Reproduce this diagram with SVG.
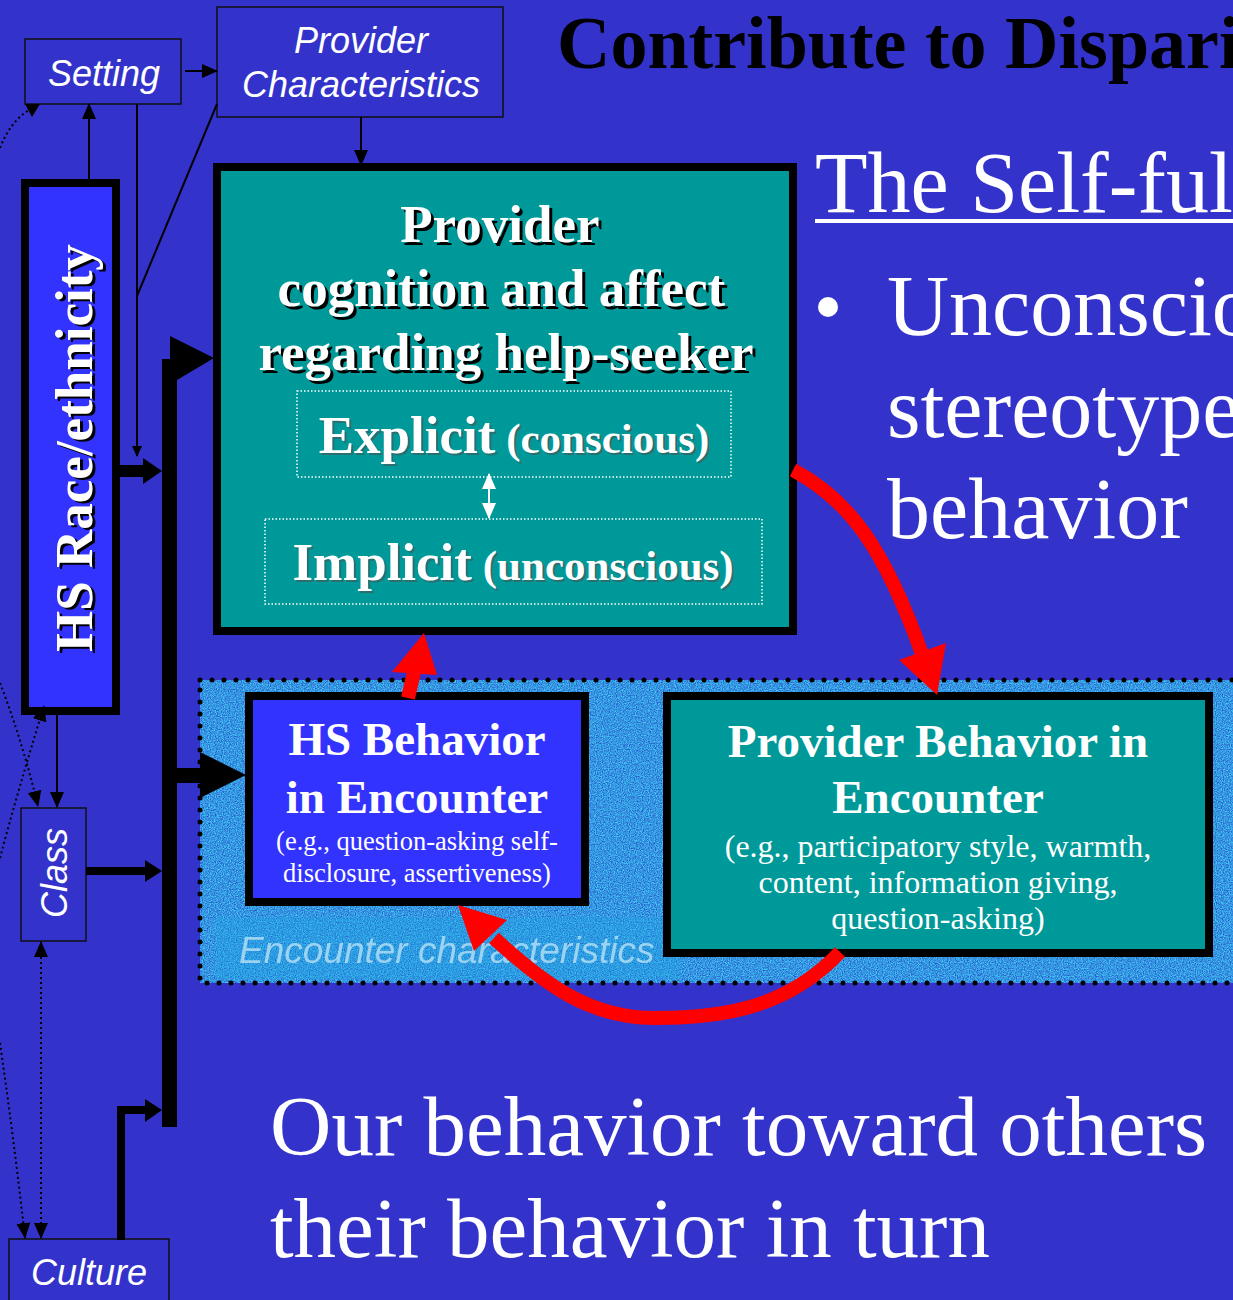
<svg xmlns="http://www.w3.org/2000/svg" width="1233" height="1300" viewBox="0 0 1233 1300">
  <style>
    .serif { font-family: "Liberation Serif", "Times New Roman", serif; }
    .sans { font-family: "Liberation Sans", Arial, sans-serif; }
    .lbl { font-family: "Liberation Sans", Arial, sans-serif; font-style: italic; font-size: 36px; fill: #fff; text-anchor: middle; }
    .thin { stroke: #000; stroke-width: 2; fill: none; }
    .dot { stroke: #000; stroke-width: 2; fill: none; stroke-dasharray: 2 3; }
    .box { fill: #3333CC; stroke: #111; stroke-width: 1.5; }
    .bold { font-family: "Liberation Serif", "Times New Roman", serif; font-weight: bold; fill: #fff; text-anchor: middle; }
    .reg { font-family: "Liberation Serif", "Times New Roman", serif; fill: #fff; text-anchor: middle; }
    .red { stroke: #FF0000; stroke-width: 14; fill: none; }
  </style>
  <defs>
    <marker id="tri" markerUnits="userSpaceOnUse" markerWidth="16" markerHeight="16" viewBox="0 0 16 16" refX="15" refY="8" orient="auto-start-reverse">
      <path d="M0,1 L16,8 L0,15 z" fill="#000"/>
    </marker>
    <marker id="triS" markerUnits="userSpaceOnUse" markerWidth="11" markerHeight="11" viewBox="0 0 11 11" refX="10" refY="5.5" orient="auto">
      <path d="M0,0.5 L11,5.5 L0,10.5 z" fill="#000"/>
    </marker>
    <marker id="triW" markerUnits="userSpaceOnUse" markerWidth="16" markerHeight="16" viewBox="0 0 16 16" refX="15" refY="8" orient="auto-start-reverse">
      <path d="M0,1 L16,8 L0,15 z" fill="#fff"/>
    </marker>
    <filter id="grain" x="0" y="0" width="100%" height="100%">
      <feTurbulence type="fractalNoise" baseFrequency="0.85" numOctaves="2" seed="4" result="n"/>
      <feColorMatrix in="n" type="matrix" values="0 0 0 0 0.05  0 0 0 0 0.62  0 0 0 0 0.9  1.8 0 0 0 -0.35" result="c"/>
      <feComposite in="c" in2="SourceGraphic" operator="in"/>
    </filter>
  </defs>

  <!-- background -->
  <rect x="0" y="0" width="1233" height="1300" fill="#3333CC"/>

  <!-- slide heading and body text -->
  <g id="heading">
    <text x="557" y="68" class="serif" font-weight="bold" font-size="74" fill="#000">Contribute to Dispari</text>
    <text x="815" y="212" class="serif" font-size="86" fill="#fff">The Self-fulf</text>
    <rect x="815" y="219" width="418" height="4" fill="#fff"/>
    <circle cx="828" cy="307" r="10" fill="#fff"/>
    <text class="serif" font-size="86" fill="#fff">
      <tspan x="887" y="335">Unconscio</tspan>
      <tspan x="887" y="437">stereotype</tspan>
      <tspan x="887" y="538">behavior</tspan>
    </text>
    <text class="serif" font-size="85" fill="#fff">
      <tspan x="270" y="1155">Our behavior toward others</tspan>
      <tspan x="270" y="1257">their behavior in turn</tspan>
    </text>
  </g>

  <!-- encounter region with grainy fill and dotted border -->
  <g id="encounter">
    <rect x="200" y="680" width="1100" height="303" fill="#2a50cc"/>
    <rect x="200" y="680" width="1100" height="303" fill="#000" filter="url(#grain)"/>
    <rect x="215" y="917" width="466" height="62" fill="#1aa8e0" opacity="0.3"/>
    <text x="239" y="963" class="sans" font-style="italic" font-size="37" fill="#b0ddf4" opacity="0.85">Encounter characteristics</text>
    <rect x="200" y="680" width="1100" height="303" fill="none" stroke="#000" stroke-width="5" stroke-linecap="round" stroke-dasharray="0 12"/>
  </g>

  <!-- nodes -->
  <g id="setting">
    <rect x="25" y="39" width="156" height="65" class="box"/>
    <text x="104" y="86" class="lbl">Setting</text>
  </g>

  <g id="provider-characteristics">
    <rect x="217" y="7" width="286" height="110" class="box"/>
    <text class="lbl"><tspan x="361" y="53">Provider</tspan><tspan x="361" y="97">Characteristics</tspan></text>
  </g>

  <g id="hs-race">
    <rect x="25" y="183" width="91" height="528" fill="#3333FF" stroke="#000" stroke-width="8"/>
    <text class="bold" font-size="53" transform="translate(95,450) rotate(-90)" style="fill:#000">HS Race/ethnicity</text>
    <text class="bold" font-size="53" transform="translate(92,448) rotate(-90)">HS Race/ethnicity</text>
  </g>

  <g id="class">
    <rect x="21" y="808" width="65" height="133" class="box"/>
    <text class="lbl" transform="translate(67,873) rotate(-90)">Class</text>
  </g>

  <g id="culture">
    <rect x="9" y="1239" width="160" height="80" class="box"/>
    <text x="89" y="1285" class="lbl">Culture</text>
  </g>

  <g id="provider-cognition">
    <rect x="217" y="167" width="576" height="464" fill="#009999" stroke="#000" stroke-width="8"/>
    <text class="bold" font-size="53" style="fill:#000">
      <tspan x="509" y="245">Provider</tspan>
      <tspan x="511" y="309">cognition and affect</tspan>
      <tspan x="509" y="373">regarding help-seeker</tspan>
    </text>
    <text class="bold" font-size="53">
      <tspan x="506" y="242">Provider</tspan>
      <tspan x="508" y="306">cognition and affect</tspan>
      <tspan x="506" y="370">regarding help-seeker</tspan>
    </text>
    <g id="explicit">
      <rect x="297" y="391" width="434" height="86" fill="none" stroke="#fff" stroke-width="1.5" stroke-dasharray="1.5 2"/>
      <text x="516" y="455" class="bold" style="fill:#2a6f6f"><tspan font-size="53">Explicit</tspan><tspan font-size="43"> (conscious)</tspan></text>
      <text x="514" y="453" class="bold"><tspan font-size="53">Explicit</tspan><tspan font-size="43"> (conscious)</tspan></text>
    </g>
    <g id="implicit">
      <rect x="265" y="519" width="497" height="85" fill="none" stroke="#fff" stroke-width="1.5" stroke-dasharray="1.5 2"/>
      <text x="515" y="582" class="bold" style="fill:#2a6f6f"><tspan font-size="53">Implicit</tspan><tspan font-size="43"> (unconscious)</tspan></text>
      <text x="513" y="580" class="bold"><tspan font-size="53">Implicit</tspan><tspan font-size="43"> (unconscious)</tspan></text>
    </g>
  </g>

  <g id="hs-behavior">
    <rect x="249" y="696" width="336" height="206" fill="#3333FF" stroke="#000" stroke-width="8"/>
    <text class="bold" font-size="47"><tspan x="417" y="755">HS Behavior</tspan><tspan x="417" y="813">in Encounter</tspan></text>
    <text class="reg" font-size="26.5"><tspan x="417" y="850">(e.g., question-asking self-</tspan><tspan x="417" y="882">disclosure, assertiveness)</tspan></text>
  </g>

  <g id="provider-behavior">
    <rect x="667" y="696" width="542" height="257" fill="#009999" stroke="#000" stroke-width="8"/>
    <text class="bold" font-size="47"><tspan x="938" y="757">Provider Behavior in</tspan><tspan x="938" y="813">Encounter</tspan></text>
    <text class="reg" font-size="32"><tspan x="938" y="857">(e.g., participatory style, warmth,</tspan><tspan x="938" y="893">content, information giving,</tspan><tspan x="938" y="929">question-asking)</tspan></text>
  </g>

  <!-- connectors -->
  <g id="connectors">
    <!-- thin solid arrows -->
    <line x1="185" y1="71" x2="217" y2="71" class="thin" marker-end="url(#tri)"/>
    <line x1="89" y1="179" x2="89" y2="104" class="thin" marker-end="url(#tri)"/>
    <line x1="137" y1="104" x2="137" y2="456" class="thin" marker-end="url(#triS)"/>
    <line x1="217" y1="104" x2="137" y2="296" class="thin"/>
    <line x1="361" y1="117" x2="361" y2="165" class="thin" marker-end="url(#tri)"/>
    <line x1="57" y1="715" x2="57" y2="807" class="thin" marker-end="url(#tri)"/>

    <!-- dotted links on the left -->
    <path d="M0,148 Q10,122 29,110" class="dot"/>
    <polygon points="25,104 40,104 32,117" fill="#000"/>
    <path d="M0,683 Q22,740 38,806" class="dot" marker-end="url(#tri)"/>
    <path d="M0,858 Q18,790 44,706" class="dot" marker-end="url(#tri)"/>
    <path d="M0,1043 Q14,1140 25,1238" class="dot" marker-end="url(#tri)"/>
    <line x1="41" y1="942" x2="41" y2="1238" class="dot" marker-start="url(#tri)" marker-end="url(#tri)"/>

    <!-- thick trunk and its arrows -->
    <polygon points="162,359 170,359 170,336 214,358 177,380 177,1127 162,1127" fill="#000"/>
    <rect x="177" y="768" width="25" height="15" fill="#000"/>
    <polygon points="200,752 246,775 200,798" fill="#000"/>
    <rect x="120" y="465" width="25" height="12" fill="#000"/>
    <polygon points="143,458 162,471 143,484" fill="#000"/>
    <rect x="86" y="867" width="61" height="8" fill="#000"/>
    <polygon points="145,860 162,871 145,882" fill="#000"/>
    <path d="M121,1240 L121,1110 L147,1110" stroke="#000" stroke-width="8" fill="none"/>
    <polygon points="145,1099 162,1110 145,1122" fill="#000"/>

    <!-- explicit / implicit link -->
    <line x1="489" y1="474" x2="489" y2="518" stroke="#fff" stroke-width="2" marker-start="url(#triW)" marker-end="url(#triW)"/>

    <!-- red feedback loop -->
    <path d="M793,470 C850,500 885,550 922,654" class="red"/>
    <polygon points="899,660 946,643 937,695" fill="#FF0000"/>
    <path d="M408,698 L415,668" class="red" stroke-width="13"/>
    <polygon points="392,672 437,675 424,633" fill="#FF0000"/>
    <path d="M840,952 C790,1005 730,1018 655,1018 C590,1018 545,985 494,938" class="red"/>
    <polygon points="507,920 474,951 458,905" fill="#FF0000"/>
  </g>
</svg>
